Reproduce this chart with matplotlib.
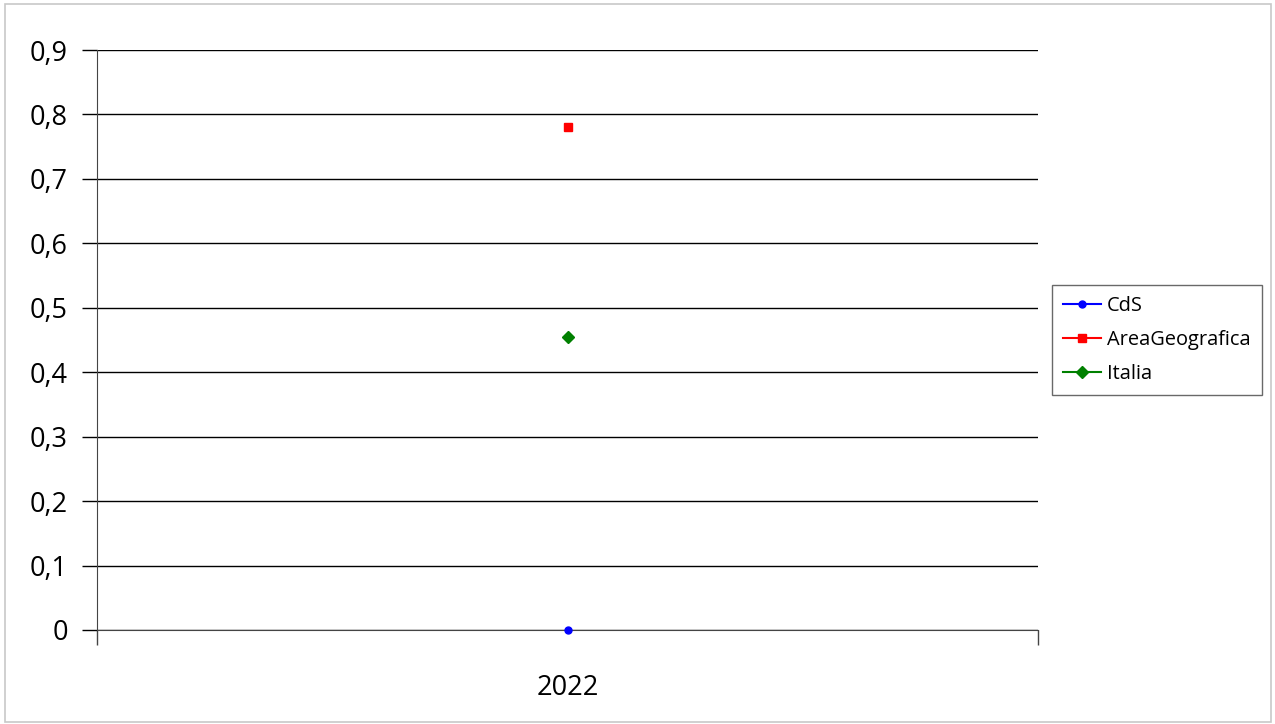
import matplotlib.pyplot as plt
from matplotlib.patches import Rectangle
from matplotlib.ticker import FixedLocator, FuncFormatter

# data
years = ["2022"]
cds = [0.0]
area_geografica = [0.78]
italia = [0.454]
y_ticks = [0, 0.1, 0.2, 0.3, 0.4, 0.5, 0.6, 0.7, 0.8, 0.9]

plt.rcParams["font.family"] = ["Open Sans", "DejaVu Sans"]

W, H = 1275, 724
fig = plt.figure(figsize=(W / 100, H / 100), dpi=100)
ax = fig.add_axes([97 / W, 1 - 630 / H, (1038 - 97) / W, (630 - 50) / H])

# outer chart border
fig.patches.append(Rectangle((5 / W, 2 / H), 1266 / W, 718 / H, transform=fig.transFigure,
                             fill=False, edgecolor="#c8c8c8", linewidth=1.2))

x = list(range(len(years)))
ax.plot(x, cds, color="blue", marker="o", markersize=5, linewidth=1.5, label="CdS",
        zorder=5, clip_on=False)
ax.plot(x, area_geografica, color="red", marker="s", markersize=6, linewidth=1.5,
        label="AreaGeografica", zorder=5)
ax.plot(x, italia, color="green", marker="D", markersize=6, linewidth=1.5, label="Italia", zorder=5)

ax.set_xlim(-0.5, len(years) - 0.5)
ax.set_ylim(0, 0.9)
ax.yaxis.set_major_locator(FixedLocator(y_ticks))
ax.yaxis.set_major_formatter(FuncFormatter(lambda v, p: f"{v:g}".replace(".", ",")))
ax.grid(axis="y", color="black", linewidth=1)
ax.set_axisbelow(True)

ax.set_xticks(x)
ax.set_xticklabels(years)
ax.set_xticks([-0.5 + i for i in range(len(years) + 1)], minor=True)
ax.tick_params(axis="x", which="major", length=0, pad=32, labelsize=19.5)
ax.tick_params(axis="x", which="minor", length=11, width=1, color="#444444")
ax.tick_params(axis="y", length=11, width=1, pad=10, labelsize=19.5)

for s in ["top", "right"]:
    ax.spines[s].set_visible(False)
ax.spines["left"].set_color("#444444")
ax.spines["bottom"].set_color("#444444")

leg = ax.legend(loc="center left", bbox_to_anchor=(1052 / W, 1 - 340 / H), bbox_transform=fig.transFigure,
                fontsize=14.4, frameon=True, fancybox=False, edgecolor="#444444",
                handlelength=1.9, handletextpad=0.3, borderpad=0.55, borderaxespad=0,
                labelspacing=0.72)
leg.get_frame().set_linewidth(1)

fig.savefig("out.png", dpi=100)
